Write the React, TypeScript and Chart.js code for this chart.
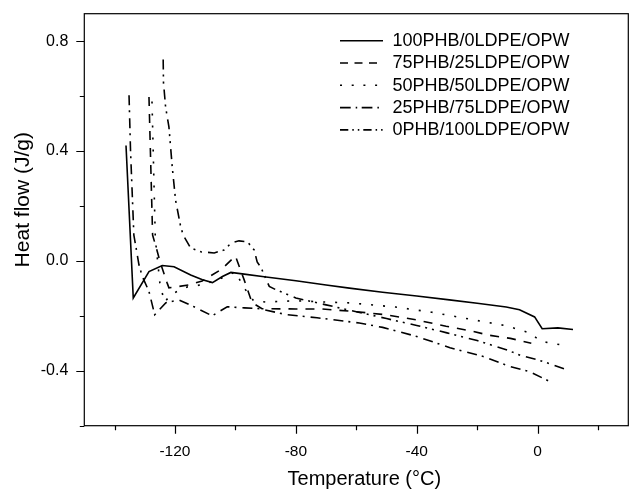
import React, { useEffect, useRef } from 'react';
import { Chart, registerables } from 'chart.js';

Chart.register(...registerables);

// ---- data ----
const SERIES_LABELS = [
  '100PHB/0LDPE/OPW',
  '75PHB/25LDPE/OPW',
  '50PHB/50LDPE/OPW',
  '25PHB/75LDPE/OPW',
  '0PHB/100LDPE/OPW',
];

const T_100 = [-136.2, -133.8, -128.6, -124.2, -120.3, -114.8, -110.9, -107.6, -104.3, -101.5, -97.1, -90.5, -80, -70, -62.3, -51.3, -40, -29.2, -20, -10.4, -6, -1, 1.5, 6.7, 11.7];
const H_100 = [0.42, -0.135, -0.039, -0.017, -0.021, -0.051, -0.069, -0.079, -0.057, -0.042, -0.048, -0.058, -0.072, -0.088, -0.099, -0.114, -0.128, -0.142, -0.154, -0.168, -0.178, -0.204, -0.247, -0.244, -0.25];

const T_75 = [-128.6, -127.4, -126.3, -124.9, -122.6, -122, -119.3, -115.3, -111, -104.4, -100, -97.1, -94.5, -91.2, -80, -71.3, -60, -50.2, -40, -30.3, -22, -15.9, -9, -2.1];
const H_75 = [0.597, 0.094, 0.052, -0.004, -0.08, -0.098, -0.094, -0.087, -0.073, -0.029, 0.018, -0.069, -0.152, -0.174, -0.175, -0.175, -0.185, -0.196, -0.215, -0.238, -0.255, -0.271, -0.282, -0.3];

const T_50 = [-127.6, -126.5, -125, -123.5, -121, -116, -110, -104, -100, -97, -94, -90, -80, -70, -62, -47, -35, -22.5, -10.4, -2.7, 1.2, 9.5];
const H_50 = [0.58, 0.08, -0.08, -0.15, -0.12, -0.095, -0.085, -0.06, -0.04, -0.1, -0.145, -0.15, -0.145, -0.15, -0.153, -0.168, -0.187, -0.212, -0.236, -0.262, -0.293, -0.309];

const T_25 = [-135.2, -134.7, -133.6, -131.9, -130.8, -128.6, -126.7, -123, -118.7, -113.7, -107.7, -102.7, -97, -92, -83, -73, -59, -51.3, -40, -29, -18, -9.3, -2.7, 4];
const H_25 = [0.603, 0.4, 0.094, -0.015, -0.057, -0.111, -0.196, -0.152, -0.142, -0.167, -0.2, -0.167, -0.171, -0.174, -0.196, -0.207, -0.226, -0.242, -0.275, -0.316, -0.348, -0.384, -0.403, -0.439];

const T_0 = [-123.9, -123.8, -123.1, -122, -120.9, -119.8, -118.2, -117.3, -114.8, -111.4, -107, -103.7, -101.4, -98.8, -96, -93.8, -92.8, -91.5, -90, -88.8, -86.6, -80, -70, -60, -50, -40, -30, -20, -10, -5.4, 0, 5, 9.7];
const H_0 = [0.733, 0.65, 0.56, 0.488, 0.342, 0.221, 0.13, 0.094, 0.047, 0.033, 0.029, 0.04, 0.065, 0.073, 0.069, 0.04, -0.004, -0.025, -0.063, -0.093, -0.105, -0.135, -0.16, -0.185, -0.21, -0.235, -0.262, -0.29, -0.325, -0.345, -0.36, -0.378, -0.397];

const X_MAJOR = [-120, -80, -40, 0];
const X_MINOR = [-140, -100, -60, -20, 20];
const Y_MAJOR = [-0.4, 0, 0.4, 0.8];
const Y_MINOR = [-0.6, -0.2, 0.2, 0.6];
const X_RANGE = [-150, 30];
const Y_RANGE = [-0.6, 0.9];
const X_TITLE = 'Temperature (°C)';
const Y_TITLE = 'Heat flow (J/g)';

// ---- styles ----
const FONT = '"Liberation Sans", Arial, Helvetica, sans-serif';
const PLOT_DASH = [[], [9, 8], [2, 10], [10, 5, 2, 6], [10, 5, 2, 5, 2, 6]];
const LEGEND_DASH = [[], [8, 6.5], [2, 9.7], [10.7, 5, 1.5, 4.5], [8.3, 4, 1.5, 4, 1.5, 4]];
const AREA = { left: 84.3, top: 13.7, right: 628.3, bottom: 425.7 };

const SERIES = [
  [T_100, H_100],
  [T_75, H_75],
  [T_50, H_50],
  [T_25, H_25],
  [T_0, H_0],
];

const decorPlugin = {
  id: 'decor',
  afterLayout(chart: any) {
    // pin the plotting area to the reference frame
    const ca = chart.chartArea;
    ca.left = AREA.left;
    ca.top = AREA.top;
    ca.right = AREA.right;
    ca.bottom = AREA.bottom;
    ca.width = AREA.right - AREA.left;
    ca.height = AREA.bottom - AREA.top;
    const xs = chart.scales.x;
    const ys = chart.scales.y;
    xs.left = AREA.left;
    xs.right = AREA.right;
    xs.width = AREA.right - AREA.left;
    xs.top = AREA.bottom;
    xs.bottom = 489;
    xs.height = 489 - AREA.bottom;
    ys.top = AREA.top;
    ys.bottom = AREA.bottom;
    ys.height = AREA.bottom - AREA.top;
    ys.left = 0;
    ys.right = AREA.left;
    ys.width = AREA.left;
    xs.min = X_RANGE[0];
    xs.max = X_RANGE[1];
    ys.min = Y_RANGE[0];
    ys.max = Y_RANGE[1];
    xs.configure();
    ys.configure();
  },
  afterDraw(chart: any) {
    const { ctx, chartArea: a, scales } = chart;
    const xs = scales.x;
    const ys = scales.y;
    ctx.save();
    ctx.strokeStyle = '#000';
    ctx.fillStyle = '#000';
    ctx.lineWidth = 1.2;
    ctx.setLineDash([]);
    ctx.strokeRect(a.left, a.top, a.right - a.left, a.bottom - a.top);
    ctx.beginPath();
    X_MAJOR.forEach((v) => {
      const p = Math.round(xs.getPixelForValue(v)) + 0.5;
      ctx.moveTo(p, a.bottom);
      ctx.lineTo(p, a.bottom + 8);
    });
    X_MINOR.forEach((v) => {
      const p = Math.round(xs.getPixelForValue(v)) + 0.5;
      ctx.moveTo(p, a.bottom);
      ctx.lineTo(p, a.bottom + 4.5);
    });
    Y_MAJOR.forEach((v) => {
      const p = Math.round(ys.getPixelForValue(v)) + 0.5;
      ctx.moveTo(a.left, p);
      ctx.lineTo(a.left - 8, p);
    });
    Y_MINOR.forEach((v) => {
      const p = Math.round(ys.getPixelForValue(v)) + 0.5;
      ctx.moveTo(a.left, p);
      ctx.lineTo(a.left - 4.5, p);
    });
    ctx.stroke();

    // axis titles
    ctx.font = `20px ${FONT}`;
    ctx.textAlign = 'center';
    ctx.textBaseline = 'alphabetic';
    ctx.fillText(X_TITLE, (a.left + a.right) / 2 + 8, 484.5);
    ctx.save();
    ctx.translate(28.5, (a.top + a.bottom) / 2 - 20);
    ctx.rotate(-Math.PI / 2);
    ctx.font = `21px ${FONT}`;
    ctx.fillText(Y_TITLE, 0, 0);
    ctx.restore();

    // legend
    ctx.font = `18px ${FONT}`;
    ctx.textAlign = 'left';
    ctx.textBaseline = 'middle';
    chart.data.datasets.forEach((ds: any, i: number) => {
      const yy = 40.7 + i * 22.3;
      ctx.beginPath();
      ctx.lineWidth = ds.borderWidth;
      ctx.setLineDash(LEGEND_DASH[i]);
      ctx.moveTo(340, yy);
      ctx.lineTo(383, yy);
      ctx.stroke();
      ctx.setLineDash([]);
      ctx.fillText(ds.label, 392.5, yy + 0.5);
    });
    ctx.restore();
  },
};

export default function App() {
  const ref = useRef<HTMLCanvasElement | null>(null);

  useEffect(() => {
    if (!ref.current) return;
    const datasets = SERIES.map(([tx, hy], i) => ({
      label: SERIES_LABELS[i],
      data: tx.map((t, k) => ({ x: t, y: hy[k] })),
      borderColor: '#000',
      backgroundColor: '#000',
      borderWidth: 1.6,
      borderDash: PLOT_DASH[i],
      pointRadius: 0,
      tension: 0,
      fill: false,
    }));
    const chart = new Chart(ref.current, {
      type: 'line',
      data: { datasets },
      options: {
        animation: false,
        responsive: false,
        devicePixelRatio: 1,
        layout: { padding: { left: 0, right: 4.7, top: 13.7, bottom: 0 } },
        plugins: { legend: { display: false }, tooltip: { enabled: false } },
        scales: {
          x: {
            type: 'linear',
            min: X_RANGE[0],
            max: X_RANGE[1],
            bounds: 'data',
            grid: { display: false, drawTicks: false },
            border: { display: false },
            afterBuildTicks: (s: any) => {
              s.ticks = X_MAJOR.map((v) => ({ value: v }));
              s.min = X_RANGE[0];
              s.max = X_RANGE[1];
            },
            afterFit: (s: any) => {
              s.height = 63.3;
            },
            ticks: {
              padding: 17,
              color: '#000',
              font: { family: FONT, size: 15.5 },
              maxRotation: 0,
              autoSkip: false,
              callback: (v: any) => String(v),
            },
          },
          y: {
            type: 'linear',
            min: Y_RANGE[0],
            max: Y_RANGE[1],
            bounds: 'data',
            grid: { display: false, drawTicks: false },
            border: { display: false },
            afterBuildTicks: (s: any) => {
              s.ticks = Y_MAJOR.map((v) => ({ value: v }));
              s.min = Y_RANGE[0];
              s.max = Y_RANGE[1];
            },
            afterFit: (s: any) => {
              s.width = 84.3;
            },
            ticks: {
              padding: 16,
              color: '#000',
              font: { family: FONT, size: 16 },
              autoSkip: false,
              callback: (v: any) => Number(v).toFixed(1),
            },
          },
        },
      },
      plugins: [decorPlugin],
    });
    return () => chart.destroy();
  }, []);

  return (
    <div style={{ position: 'fixed', left: 0, top: 0, width: 633, height: 489, background: '#fff' }}>
      <canvas ref={ref} width={633} height={489} style={{ display: 'block' }} />
    </div>
  );
}
